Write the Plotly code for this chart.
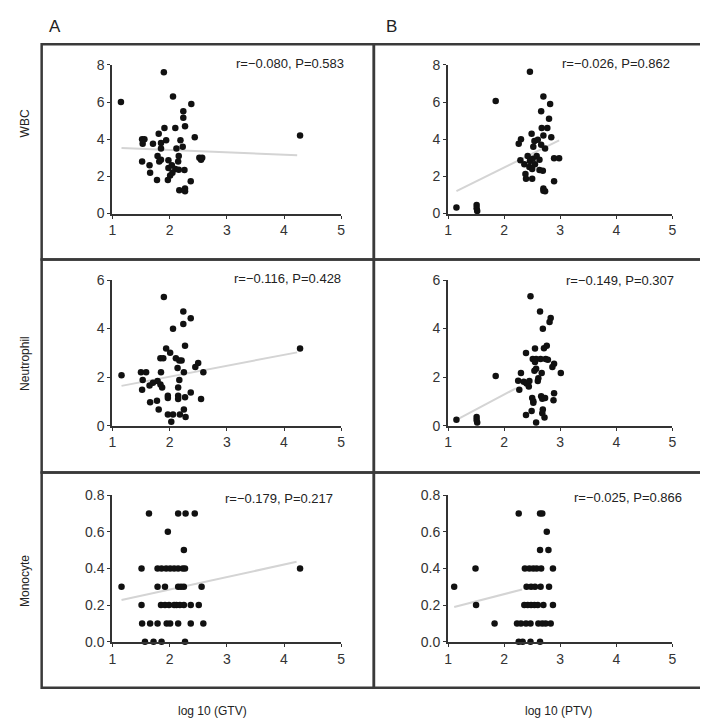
import plotly.graph_objects as go

# ---------------- data ----------------
# Panel A1: WBC vs log10(GTV)
wbc_gtv_x = [1.90, 1.15, 2.06, 2.38, 2.24, 2.24, 2.27, 1.91, 2.10, 1.81, 1.52, 1.56, 1.53, 1.71,
             1.85, 1.94, 1.85, 2.19, 2.23, 2.12, 2.44, 1.79, 1.85, 1.82, 1.98, 2.16, 2.15, 2.52,
             2.57, 2.55, 1.52, 1.65, 1.66, 1.98, 2.04, 2.10, 2.05, 2.01, 2.16, 2.26, 1.97, 1.78,
             2.37, 2.17, 2.27, 2.27, 4.28]
wbc_gtv_y = [7.6, 6.0, 6.3, 5.9, 5.5, 5.15, 4.7, 4.6, 4.6, 4.3, 4.0, 4.0, 3.76, 3.75,
             3.8, 3.94, 3.5, 3.94, 3.6, 3.5, 4.1, 3.1, 2.9, 2.8, 2.87, 3.1, 2.8, 3.0,
             3.0, 2.9, 2.8, 2.6, 2.2, 2.45, 2.6, 2.4, 2.2, 2.04, 2.35, 2.34, 1.8, 1.8,
             1.74, 1.25, 1.34, 1.2, 4.2]
wbc_gtv_fit_x = [1.16, 4.23]
wbc_gtv_fit_y = [3.53, 3.14]

# Panel B1: WBC vs log10(PTV)
wbc_ptv_x = [2.46, 1.85, 2.70, 2.82, 2.66, 2.80, 2.67, 2.77, 2.49, 2.70, 2.84, 2.30, 2.26, 2.54,
             2.60, 2.52, 2.73, 2.66, 2.29, 2.36, 2.42, 2.46, 2.51, 2.58, 2.63, 2.55, 2.45, 2.69,
             2.63, 2.89, 2.98, 2.38, 2.39, 2.50, 2.89, 2.70, 2.73, 2.70, 2.50, 1.15, 1.51, 1.51,
             1.52]
wbc_ptv_y = [7.63, 6.05, 6.3, 5.9, 5.5, 5.1, 4.6, 4.6, 4.3, 4.2, 4.1, 4.0, 3.75, 3.9,
             3.97, 3.6, 3.5, 3.7, 2.87, 2.65, 3.1, 2.83, 2.95, 3.1, 2.9, 2.65, 2.5, 2.3,
             2.34, 2.97, 2.97, 2.13, 1.87, 1.87, 1.74, 1.34, 1.2, 1.23, 2.4, 0.33, 0.46, 0.28,
             0.14]
wbc_ptv_fit_x = [1.15, 2.98]
wbc_ptv_fit_y = [1.2, 3.94]

# Panel A2: Neutrophil vs log10(GTV)
neu_gtv_x = [1.90, 2.24, 2.37, 2.24, 2.06, 2.27, 1.94, 2.01, 1.84, 1.89, 2.11, 2.17, 2.21, 2.14,
             2.50, 2.45, 2.59, 2.25, 1.85, 1.50, 1.59, 1.16, 1.53, 2.17, 1.79, 1.71, 1.65, 1.84,
             1.87, 1.52, 2.15, 2.37, 1.97, 1.97, 2.15, 2.15, 2.27, 2.55, 1.78, 1.66, 1.81, 2.25,
             1.97, 2.06, 2.18, 2.28, 2.03, 4.28]
neu_gtv_y = [5.3, 4.7, 4.42, 4.19, 3.99, 3.29, 3.18, 3.0, 2.78, 2.78, 2.78, 2.68, 2.68, 2.38,
             2.58, 2.42, 2.2, 2.2, 2.2, 2.2, 2.2, 2.08, 1.88, 1.88, 1.84, 1.77, 1.66, 1.7,
             1.57, 1.48, 1.57, 1.37, 1.23, 1.14, 1.23, 1.1, 1.17, 1.1, 1.03, 0.97, 0.67, 0.67,
             0.46, 0.46, 0.46, 0.36, 0.16, 3.18]
neu_gtv_fit_x = [1.16, 4.23]
neu_gtv_fit_y = [1.64, 3.02]

# Panel B2: Neutrophil vs log10(PTV)
neu_ptv_x = [2.47, 2.64, 2.83, 2.81, 2.69, 2.76, 2.71, 2.55, 2.39, 2.51, 2.57, 2.65, 2.74, 2.78,
             2.55, 2.89, 2.86, 2.57, 2.54, 2.30, 2.67, 3.01, 1.85, 2.25, 2.35, 2.40, 2.45, 2.44,
             2.60, 2.61, 2.27, 2.50, 2.52, 2.66, 2.68, 2.73, 2.89, 2.88, 2.52, 2.69, 2.68, 2.72,
             2.39, 2.49, 2.57, 1.15, 1.51, 1.51, 1.52]
neu_ptv_y = [5.33, 4.7, 4.43, 4.27, 3.99, 3.29, 3.19, 3.18, 2.99, 2.75, 2.75, 2.75, 2.75, 2.72,
             2.62, 2.55, 2.42, 2.35, 2.26, 2.17, 2.17, 2.17, 2.05, 1.85, 1.81, 1.74, 1.84, 1.61,
             1.84, 1.95, 1.48, 1.14, 1.01, 1.21, 1.11, 1.14, 1.34, 1.05, 0.94, 0.67, 0.51, 0.34,
             0.44, 0.6, 0.13, 0.24, 0.36, 0.23, 0.13]
neu_ptv_fit_x = [1.15, 2.21]
neu_ptv_fit_y = [0.24, 1.54]

# Panel A3: Monocyte vs log10(GTV)
mono_gtv_x = [1.64, 2.15, 2.28, 2.44,
              1.97,
              2.25,
              1.51, 1.79, 1.86, 1.94, 2.01, 2.08, 2.15, 2.23, 2.27, 4.28,
              1.16, 1.79, 1.92, 2.15, 2.20, 2.25, 2.56,
              1.51, 1.85, 1.92, 1.99, 2.08, 2.12, 2.18, 2.25, 2.37, 2.51,
              1.52, 1.66, 1.79, 1.95, 2.01, 2.15, 2.37, 2.59,
              1.57, 1.72, 1.86, 2.27]
mono_gtv_y = [0.7, 0.7, 0.7, 0.7,
              0.6,
              0.5,
              0.4, 0.4, 0.4, 0.4, 0.4, 0.4, 0.4, 0.4, 0.4, 0.4,
              0.3, 0.3, 0.3, 0.3, 0.3, 0.3, 0.3,
              0.2, 0.2, 0.2, 0.2, 0.2, 0.2, 0.2, 0.2, 0.2, 0.2,
              0.1, 0.1, 0.1, 0.1, 0.1, 0.1, 0.1, 0.1,
              0.0, 0.0, 0.0, 0.0]
mono_gtv_fit_x = [1.16, 4.22]
mono_gtv_fit_y = [0.228, 0.436]

# Panel B3: Monocyte vs log10(PTV)
mono_ptv_x = [2.26, 2.64, 2.68,
              2.76,
              2.64, 2.79,
              1.49, 2.37, 2.45, 2.52, 2.58, 2.66, 2.87,
              1.11, 2.40, 2.48, 2.55, 2.65, 2.80,
              1.50, 2.36, 2.42, 2.48, 2.54, 2.60, 2.70, 2.87,
              1.83, 2.23, 2.30, 2.39, 2.47, 2.61, 2.68, 2.74, 2.83,
              2.26, 2.33, 2.47, 2.64]
mono_ptv_y = [0.7, 0.7, 0.7,
              0.6,
              0.5, 0.5,
              0.4, 0.4, 0.4, 0.4, 0.4, 0.4, 0.4,
              0.3, 0.3, 0.3, 0.3, 0.3, 0.3,
              0.2, 0.2, 0.2, 0.2, 0.2, 0.2, 0.2, 0.2,
              0.1, 0.1, 0.1, 0.1, 0.1, 0.1, 0.1, 0.1, 0.1,
              0.0, 0.0, 0.0, 0.0]
mono_ptv_fit_x = [1.11, 2.32]
mono_ptv_fit_y = [0.19, 0.285]

stats_text = ["r=\u22120.080, P=0.583", "r=\u22120.026, P=0.862",
              "r=\u22120.116, P=0.428", "r=\u22120.149, P=0.307",
              "r=\u22120.179, P=0.217", "r=\u22120.025, P=0.866"]
row_titles = ["WBC", "Neutrophil", "Monocyte"]
col_titles = ["log 10 (GTV)", "log 10 (PTV)"]
panel_letters = ["A", "B"]
y_ranges = [[0, 8], [0, 6], [0, 0.8]]
y_dticks = [2, 2, 0.2]
x_ticks = [1, 2, 3, 4, 5]

# ---------------- layout helpers ----------------
W, H = 708, 720
FONT = "Liberation Sans, Arial, Helvetica, sans-serif"
DARK = "#333333"

def px_x(p):
    return p / W

def px_y(p):
    return 1 - p / H

col_dom_px = [(101.5, 333.0), (441.0, 668.0)]
row_dom_px = [(50.0, 202.0), (270.0, 419.0), (490.0, 640.0)]

panels = [
    (wbc_gtv_x, wbc_gtv_y, wbc_gtv_fit_x, wbc_gtv_fit_y),
    (wbc_ptv_x, wbc_ptv_y, wbc_ptv_fit_x, wbc_ptv_fit_y),
    (neu_gtv_x, neu_gtv_y, neu_gtv_fit_x, neu_gtv_fit_y),
    (neu_ptv_x, neu_ptv_y, neu_ptv_fit_x, neu_ptv_fit_y),
    (mono_gtv_x, mono_gtv_y, mono_gtv_fit_x, mono_gtv_fit_y),
    (mono_ptv_x, mono_ptv_y, mono_ptv_fit_x, mono_ptv_fit_y),
]

# stats label anchor positions (right edge x, centre y) in pixels
stats_pos = [(338, 49), (668, 49), (335, 268), (672, 270), (327, 493), (680, 492)]

fig = go.Figure()
layout = dict(
    width=W, height=H,
    margin=dict(l=0, r=0, t=0, b=0),
    paper_bgcolor="white", plot_bgcolor="white",
    showlegend=False,
    font=dict(family=FONT, size=13, color=DARK),
)

for i, (xs, ys, fx, fy) in enumerate(panels):
    r, c = divmod(i, 2)
    n = i + 1
    xa = "x" if n == 1 else f"x{n}"
    ya = "y" if n == 1 else f"y{n}"
    fig.add_trace(go.Scatter(x=fx, y=fy, mode="lines",
                             line=dict(color="#d4d4d4", width=2),
                             xaxis=xa, yaxis=ya, hoverinfo="skip"))
    fig.add_trace(go.Scatter(x=xs, y=ys, mode="markers",
                             marker=dict(color="#111111", size=6.5),
                             cliponaxis=False, xaxis=xa, yaxis=ya))
    xkey = "xaxis" if n == 1 else f"xaxis{n}"
    ykey = "yaxis" if n == 1 else f"yaxis{n}"
    x0, x1 = col_dom_px[c]
    y0, y1 = row_dom_px[r]
    layout[xkey] = dict(domain=[px_x(x0), px_x(x1)], range=[1, 5], anchor=ya,
                        tickvals=x_ticks, showline=True, linecolor=DARK, linewidth=2,
                        ticks="outside", ticklen=3, tickcolor=DARK, showgrid=False,
                        zeroline=False, tickfont=dict(size=14, color=DARK), fixedrange=True)
    layout[ykey] = dict(domain=[px_y(y1), px_y(y0)], range=y_ranges[r], anchor=xa,
                        dtick=y_dticks[r], tick0=0, showline=True, linecolor=DARK, linewidth=2,
                        ticks="outside", ticklen=3, tickcolor=DARK, showgrid=False,
                        zeroline=False, tickfont=dict(size=14, color=DARK),
                        tickformat=".1f" if r == 2 else "d", fixedrange=True)

annotations = []
for i, txt in enumerate(stats_text):
    xr, yc = stats_pos[i]
    annotations.append(dict(x=px_x(xr), y=px_y(yc), xref="paper", yref="paper",
                            text=txt, showarrow=False, xanchor="right", yanchor="middle",
                            font=dict(size=13, color="#222222")))

row_title_y = [110, 355, 578]
for t, yc in zip(row_titles, row_title_y):
    annotations.append(dict(x=px_x(13), y=px_y(yc), xref="paper", yref="paper",
                            text=t, showarrow=False, textangle=-90,
                            xanchor="center", yanchor="middle",
                            font=dict(size=12, color="#222222")))

col_title_x = [203, 553]
for t, xc in zip(col_titles, col_title_x):
    annotations.append(dict(x=px_x(xc), y=px_y(711), xref="paper", yref="paper",
                            text=t, showarrow=False, xanchor="center", yanchor="middle",
                            font=dict(size=12, color="#222222")))

for t, xl in zip(panel_letters, [35, 376]):
    annotations.append(dict(x=px_x(xl), y=px_y(11), xref="paper", yref="paper",
                            text=t, showarrow=False, xanchor="left", yanchor="middle",
                            font=dict(size=17, color="#222222")))

layout["annotations"] = annotations

# panel frames
shapes = []
col_box = [(30, 366), (366, 703)]
row_box = [(29, 249), (249, 467), (467, 687)]
for (bx0, bx1) in col_box:
    for (by0, by1) in row_box:
        shapes.append(dict(type="rect", xref="paper", yref="paper",
                           x0=px_x(bx0), x1=px_x(bx1), y0=px_y(by1), y1=px_y(by0),
                           line=dict(color="#3a3a3a", width=2.5), layer="below"))
layout["shapes"] = shapes

fig.update_layout(**layout)
fig.write_html("out.html")
